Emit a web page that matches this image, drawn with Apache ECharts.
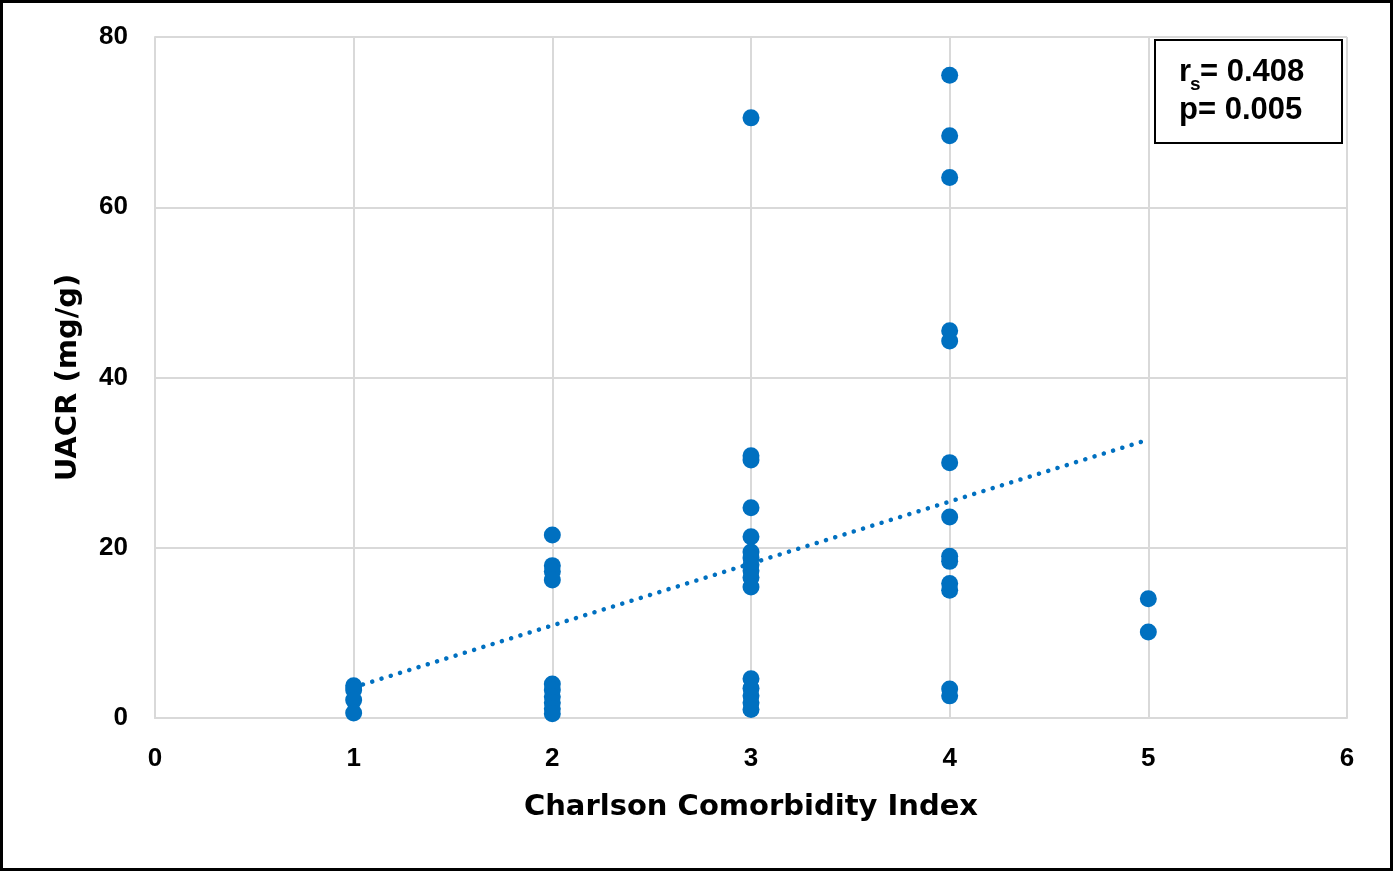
<!DOCTYPE html>
<html>
<head>
<meta charset="utf-8">
<script src="https://cdn.jsdelivr.net/npm/echarts@6/dist/echarts.min.js"></script>
<style>
html,body{margin:0;padding:0;background:#fff;}
#chart{width:1394px;height:872px;}
</style>
</head>
<body>
<div id="chart"></div>
<script>
// Charlson Comorbidity Index (x) vs UACR mg/g (y)
const cci1 = [3.8, 3.3, 2.1, 0.6];
const cci2 = [21.5, 17.9, 17.2, 16.2, 4.0, 3.3, 2.5, 1.8, 1.1, 0.5];
const cci3 = [70.5, 30.8, 30.3, 24.7, 21.3, 19.5, 18.8, 18.0, 17.3, 16.5, 15.4, 4.6, 3.5, 2.6, 1.8, 1.0];
const cci4 = [75.5, 68.4, 63.5, 45.5, 44.3, 30.0, 23.6, 19.0, 18.4, 15.8, 15.0, 3.4, 2.6];
const cci5 = [14.0, 10.1];
const trendX = [1, 5];
const trendY = [3.6, 32.7];
const xTicks = [0, 1, 2, 3, 4, 5, 6];
const yTicks = [0, 20, 40, 60, 80];
const xTitle = 'Charlson Comorbidity Index';
const yTitle = 'UACR (mg/g)';
const statR = '= 0.408';
const statP = 'p= 0.005';

const groups = [[1, cci1], [2, cci2], [3, cci3], [4, cci4], [5, cci5]];
const points = [];
groups.forEach(([x, arr]) => arr.forEach(v => points.push([x, v])));
const trend = trendX.map((x, i) => [x, trendY[i]]);

const blue = '#0070C0';
const grey = '#d9d9d9';
const tickFont = {color: '#000', fontFamily: 'Liberation Sans', fontWeight: 'bold', fontSize: 26};
const titleFont = {color: '#000', fontFamily: 'DejaVu Sans', fontWeight: 'bold', fontSize: 29};

const chart = echarts.init(document.getElementById('chart'), null, {renderer: 'canvas'});
chart.setOption({
  backgroundColor: '#fff',
  animation: false,
  grid: {left: 155, right: 47, top: 37, bottom: 154, containLabel: false},
  xAxis: {
    type: 'value', min: xTicks[0], max: xTicks[xTicks.length - 1], interval: 1,
    name: xTitle, nameLocation: 'middle', nameGap: 75, nameTextStyle: titleFont,
    axisLine: {show: true, lineStyle: {color: grey, width: 2}},
    axisTick: {show: false},
    axisLabel: Object.assign({margin: 28}, tickFont),
    splitLine: {show: true, lineStyle: {color: grey, width: 2}}
  },
  yAxis: {
    type: 'value', min: yTicks[0], max: yTicks[yTicks.length - 1], interval: 20,
    name: yTitle, nameLocation: 'middle', nameGap: 72, nameTextStyle: titleFont,
    axisLine: {show: true, lineStyle: {color: grey, width: 2}},
    axisTick: {show: false},
    axisLabel: Object.assign({margin: 27, padding: [4, 0, 0, 0]}, tickFont),
    splitLine: {show: true, lineStyle: {color: grey, width: 2}}
  },
  series: [
    {
      type: 'line', data: trend, symbol: 'none', silent: true, z: 1,
      lineStyle: {color: blue, width: 4.5, type: [0.1, 9.6], cap: 'round'}
    },
    {
      type: 'scatter', data: points, symbol: 'circle', symbolSize: 17, z: 2,
      itemStyle: {color: blue, opacity: 1}
    }
  ],
  graphic: [
    {type: 'rect', shape: {x: 1.5, y: 1.5, width: 1390, height: 868}, style: {fill: 'none', stroke: '#000', lineWidth: 3}, z: 100},
    {type: 'rect', shape: {x: 1155, y: 40, width: 187, height: 103}, style: {fill: '#fff', stroke: '#000', lineWidth: 2}, z: 100},
    {type: 'text', left: 1179, top: 57, style: {text: 'r', font: 'bold 31px "Liberation Sans"', fill: '#000'}, z: 101},
    {type: 'text', left: 1190, top: 75, style: {text: 's', font: 'bold 19px "Liberation Sans"', fill: '#000'}, z: 101},
    {type: 'text', left: 1200, top: 57, style: {text: statR, font: 'bold 31px "Liberation Sans"', fill: '#000'}, z: 101},
    {type: 'text', left: 1179, top: 95, style: {text: statP, font: 'bold 31px "Liberation Sans"', fill: '#000'}, z: 101}
  ]
});
</script>
</body>
</html>
